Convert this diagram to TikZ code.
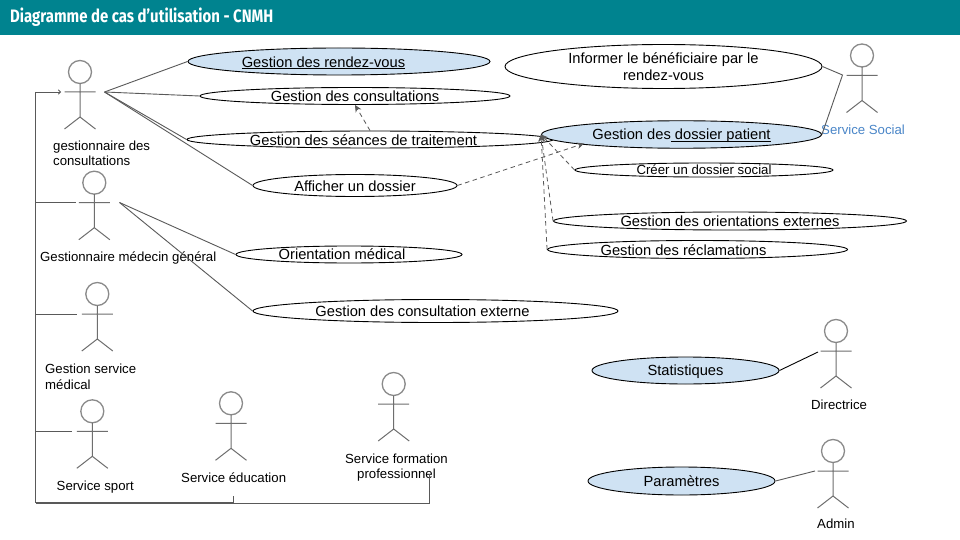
\documentclass[tikz,border=0pt]{standalone}
\usepackage{fontspec}
\setmainfont{Liberation Sans}
\newfontfamily\titlefont{Fira Sans}
\usetikzlibrary{shapes.geometric,arrows.meta}
\definecolor{teal0}{HTML}{00838F}
\definecolor{ucblue}{HTML}{CFE2F3}
\definecolor{linegray}{HTML}{595959}
\definecolor{actgray}{HTML}{6E6E6E}
\definecolor{headgray}{HTML}{8A8A8A}
\definecolor{socblue}{HTML}{4A86C8}
\newsavebox{\ulbox}
\newcommand{\myul}[1]{\sbox{\ulbox}{#1}\rlap{\rule[-1.7pt]{\wd\ulbox}{0.8pt}}\usebox{\ulbox}}
\tikzset{
  uc/.style={draw=black,fill=white,ellipse,line width=0.9pt,inner sep=0pt},
  ucb/.style={uc,fill=ucblue},
  lab/.style={inner sep=0pt,font=\fontsize{14.7}{17}\selectfont,text=black,align=center},
  actlab/.style={inner sep=0pt,font=\fontsize{13.2}{15.5}\selectfont,text=black,align=left},
  link/.style={draw=linegray,line width=0.9pt},
  dep/.style={draw=linegray,line width=0.8pt,dash pattern=on 4.5pt off 3.5pt,-{Stealth[length=7pt,width=6.5pt]}},
  actor/.pic={
    \draw[headgray,line width=1.3pt] (0,0) circle (11.5);
    \draw[actgray,line width=1pt] (0,11.5) -- (0,45) (-15.5,20) -- (15.5,20) (-15.5,57) -- (0,45) -- (15.5,57);
  }
}
\begin{document}
\begin{tikzpicture}[x=1pt,y=-1pt]
\useasboundingbox (0,0) rectangle (960,540);
\fill[white] (0,0) rectangle (960,540);
\fill[teal0] (0,0) rectangle (960,35);
\node[anchor=west,inner sep=0pt,text=white,font=\titlefont\bfseries\fontsize{18}{20}\selectfont] (title) at (10,17) {\scalebox{0.83}[1]{Diagramme de cas d’utilisation - CNMH}};

% actors
\pic at (80,72) {actor};
\pic at (94.3,182.7) {actor};
\pic at (97.3,294) {actor};
\pic at (92.3,411.3) {actor};
\pic at (231,403.3) {actor};
\pic at (393.7,384) {actor};
\pic at (862,55.5) {actor};
\pic at (836,331) {actor};
\pic at (833,451) {actor};

\coordinate (a1out) at (104.5,92);
\coordinate (a1in) at (61,92);
\coordinate (a2out) at (119.5,202.5);
\coordinate (a2in) at (76,202.5);
\coordinate (a3in) at (77,314);
\coordinate (a4in) at (72,431);
\coordinate (a5in) at (233.5,496);
\coordinate (a6in) at (429.5,474);
\coordinate (ssout) at (842.5,75);
\coordinate (dirin) at (818,352);
\coordinate (admin) at (815,471);
\coordinate (busT) at (35.5,92);
\coordinate (bus2) at (35.5,202.5);
\coordinate (bus3) at (35.5,314);
\coordinate (bus4) at (35.5,431);
\coordinate (busB) at (35.5,503);
\coordinate (busM) at (233.5,503);
\coordinate (busR) at (429.5,503);

% use cases
\node[uc,minimum width=366pt,minimum height=17pt,label={[lab,xshift=-6.5pt,yshift=-0.8pt]center:Gestion des séances de traitement}] (seances) at (370,139.5) {};
\node[ucb,minimum width=302pt,minimum height=27pt,label={[lab,xshift=-15.5pt,yshift=-1.6pt]center:\myul{Gestion des rendez-vous}}] (rdv) at (339,61.5) {};
\node[uc,minimum width=310pt,minimum height=17pt,label={[lab]center:Gestion des consultations}] (consult) at (355,96) {};
\node[uc,minimum width=204pt,minimum height=22pt,label={[lab,yshift=-0.8pt]center:Afficher un dossier}] (afficher) at (355,185.5) {};
\node[uc,minimum width=317pt,minimum height=44pt,label={[lab]center:Informer le bénéficiaire par le\\rendez-vous}] (informer) at (663.5,66.5) {};
\node[uc,minimum width=258pt,minimum height=14pt,label={[lab,font=\fontsize{13.2}{15}\selectfont]center:Créer un dossier social}] (creer) at (704,170) {};
\node[uc,minimum width=353pt,minimum height=18pt,label={[lab]center:Gestion des orientations externes}] (orient) at (730,221) {};
\node[uc,minimum width=300pt,minimum height=18pt,label={[lab,xshift=-14pt,yshift=-0.8pt]center:Gestion des réclamations}] (reclam) at (697.5,249.5) {};
\node[uc,minimum width=226pt,minimum height=17pt,label={[lab,xshift=-7pt]center:Orientation médical}] (omed) at (349,254.5) {};
\node[uc,minimum width=365pt,minimum height=23pt,label={[lab,xshift=-13pt]center:Gestion des consultation externe}] (cext) at (435.5,311) {};
\node[ucb,minimum width=187pt,minimum height=27pt,label={[lab,yshift=-0.8pt]center:Statistiques}] (stats) at (685.5,370.5) {};
\node[ucb,minimum width=187pt,minimum height=28pt,label={[lab]center:Paramètres}] (params) at (681.5,481) {};
\node[ucb,minimum width=280pt,minimum height=27.5pt,label={[lab,yshift=-1.6pt]center:Gestion des\myul{\ dossier patient}}] (dossier) at (681.5,134.5) {};

% actor labels
\node[actlab,anchor=north west] (l1) at (53,140.5) {gestionnaire des\\consultations};
\node[actlab,anchor=west] (l2) at (40,258) {Gestionnaire médecin général};
\node[actlab,anchor=north west] (l3) at (45,364) {Gestion service\\médical};
\node[actlab,anchor=west] (l4) at (56.5,487) {Service sport};
\node[actlab,anchor=west] (l5) at (181,477.5) {Service éducation};
\node[actlab,align=center,anchor=north] (l6) at (396.5,453.5) {Service formation\\professionnel};
\node[actlab,anchor=west,text=socblue] (l7) at (821,130) {Service Social};
\node[actlab,anchor=west] (l8) at (811,404.5) {Directrice};
\node[actlab,anchor=west] (l9) at (817,524) {Admin};

% connectors
\draw[link] (a1out) -- (rdv.west);
\draw[link] (a1out) -- (consult.west);
\draw[link] (a1out) -- (seances.west);
\draw[link] (a1out) -- (afficher.west);
\draw[link] (a2out) -- (omed.west);
\draw[link] (a2out) -- (cext.west);
\draw[link] (informer.east) -- (ssout) -- (dossier.east);
\draw[draw=black,line width=0.9pt] (stats.east) -- (dirin);
\draw[link] (params.east) -- (admin);
\draw[link] (busT) -- (busB);
\draw[link,-{To[length=3pt,width=5pt]}] (busT) -- (a1in);
\draw[link] (bus2) -- (a2in);
\draw[link] (bus3) -- (a3in);
\draw[link] (bus4) -- (a4in);
\draw[link,line width=1.4pt] (busB) -- (busM);
\draw[link] (a5in) -- (busM) -- (busR) -- (a6in);

\draw[dep] (seances.north) -- (consult.south);
\coordinate (dosA) at (584,143.5);
\draw[dep] (afficher.east) -- (dosA);
\draw[dep] (creer.west) -- (dossier.west);
\draw[dep] (orient.west) -- (dossier.west);
\draw[dep] (reclam.west) -- (dossier.west);
\end{tikzpicture}
\end{document}
